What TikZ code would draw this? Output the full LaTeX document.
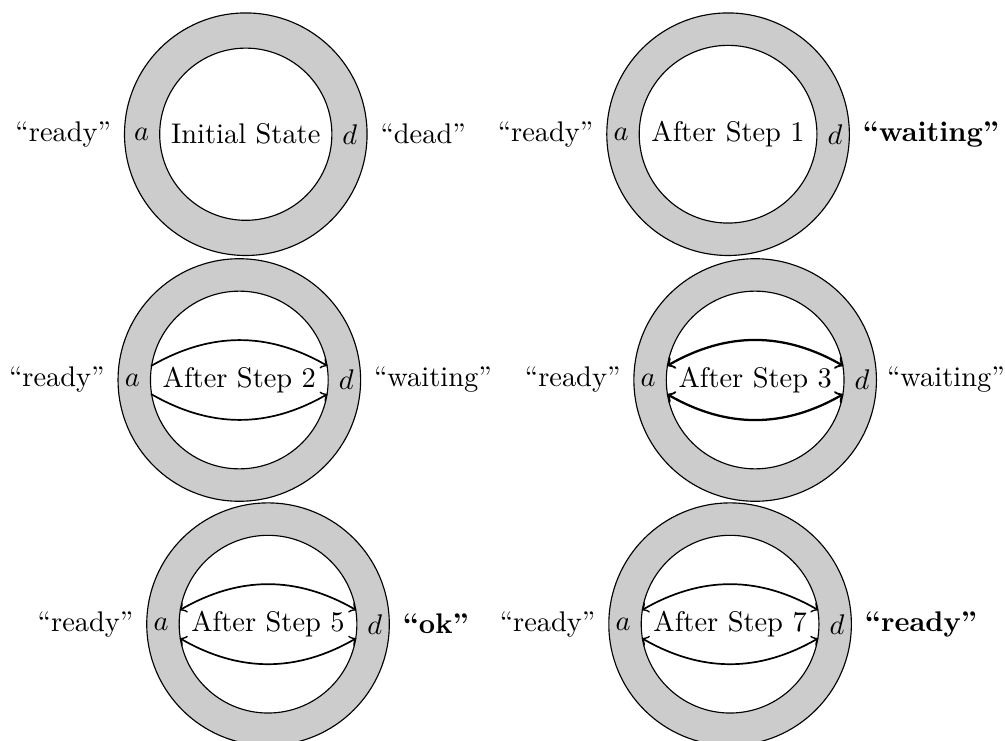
\documentclass[tikz,border=0pt]{standalone}
\usetikzlibrary{positioning}

\begin{document}
\begin{tikzpicture}[
    ring/.style={draw, circle, fill=gray!40, minimum size=3cm},
    core/.style={draw, circle, fill=white},
    flow/.style={semithick},
    bold flow/.style={thick}
  ]
    \useasboundingbox (0,0) rectangle (12.43,-9.155);

    % initial state
    \node[ring] (r0) at (3.04,-1.66) {};
    \node[core] (s0) at (r0) {Initial State};
    \node[left=0pt of s0] (a0) {$a$};
    \node[right=0pt of s0] (d0) {$d$};
    \node[left=1pt of r0] (l0) {``ready''};
    \node[right=1pt of r0] (q0) {``dead''};

    % after step 1
    \node[ring] (r1) at (9.005,-1.66) {};
    \node[core] (s1) at (r1) {After Step 1};
    \node[left=0pt of s1] (a1) {$a$};
    \node[right=0pt of s1] (d1) {$d$};
    \node[left=1pt of r1] (l1) {``ready''};
    \node[right=1pt of r1] (q1) {\textbf{``waiting''}};

    % after step 2
    \node[ring] (r2) at (2.96,-4.70) {};
    \node[core] (s2) at (r2) {After Step 2};
    \node[left=0pt of s2] (a2) {$a$};
    \node[right=0pt of s2] (d2) {$d$};
    \node[left=1pt of r2] (l2) {``ready''};
    \node[right=1pt of r2] (q2) {``waiting''};

    % after step 3
    \node[ring] (r3) at (9.34,-4.70) {};
    \node[core] (s3) at (r3) {After Step 3};
    \node[left=0pt of s3] (a3) {$a$};
    \node[right=0pt of s3] (d3) {$d$};
    \node[left=1pt of r3] (l3) {``ready''};
    \node[right=0pt of r3] (q3) {``waiting''};

    % after step 5
    \node[ring] (r5) at (3.315,-7.72) {};
    \node[core] (s5) at (r5) {After Step 5};
    \node[left=0pt of s5] (a5) {$a$};
    \node[right=0pt of s5] (d5) {$d$};
    \node[left=1pt of r5] (l5) {``ready''};
    \node[right=1pt of r5] (q5) {\textbf{``ok''}};

    % after step 7
    \node[ring] (r7) at (9.03,-7.72) {};
    \node[core] (s7) at (r7) {After Step 7};
    \node[left=0pt of s7] (a7) {$a$};
    \node[right=0pt of s7] (d7) {$d$};
    \node[left=1pt of r7] (l7) {``ready''};
    \node[right=1pt of r7] (q7) {\textbf{``ready''}};

    \draw[flow, ->] (s2.171) to[bend left=30] (s2.9);
    \draw[flow, ->] (s2.189) to[bend right=30] (s2.351);
    \draw[bold flow, <->] (s3.171) to[bend left=30] (s3.9);
    \draw[bold flow, <->] (s3.189) to[bend right=30] (s3.351);
    \draw[flow, <->] (s5.171) to[bend left=30] (s5.9);
    \draw[flow, <->] (s5.189) to[bend right=30] (s5.351);
    \draw[flow, <->] (s7.171) to[bend left=30] (s7.9);
    \draw[flow, <->] (s7.189) to[bend right=30] (s7.351);
\end{tikzpicture}
\end{document}
